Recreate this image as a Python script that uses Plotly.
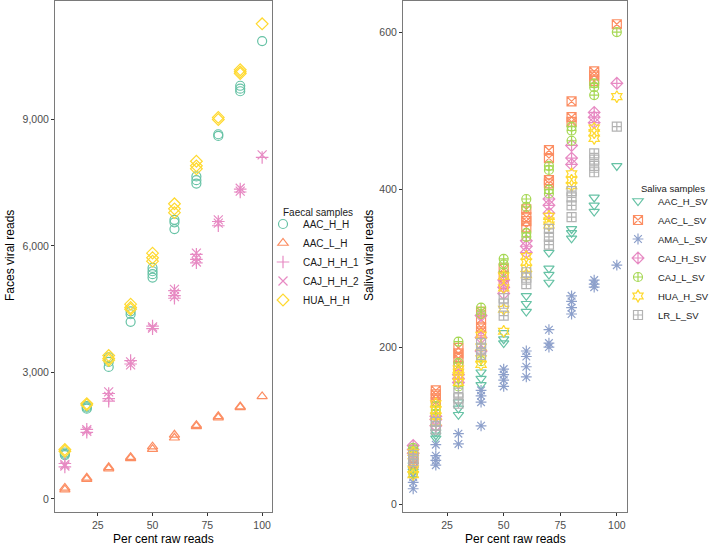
import plotly.graph_objects as go

W, H = 709, 548

PERCENT = [10, 20, 30, 40, 50, 60, 70, 80, 90, 100]

# ---------- Faecal samples (left panel) ----------
AAC_H_H = [[1100, 1070, 1040], [2200, 2170, 2140], [3360, 3250, 3130], [4450, 4380, 4200],
           [5480, 5400, 5330, 5250], [6620, 6560, 6400], [7650, 7560, 7480], [8650, 8610],
           [9800, 9730, 9670], [10860]]
AAC_L_H = [[260, 220], [500, 470], [750, 720], [990, 960], [1240, 1180], [1520, 1450],
           [1750, 1720], [1960, 1930], [2190, 2170], [2430]]
CAJ_H_H_1 = [[840, 760], [1650, 1580], [2500, 2380, 2320], [3280, 3200], [4100, 4040],
             [4940, 4820, 4760], [5800, 5680, 5600], [6580, 6480], [7350, 7280], [8100]]
CAJ_H_H_2 = [[820, 780], [1640, 1600], [2540, 2430], [3250, 3180], [4080, 4050],
             [4970, 4880, 4800], [5830, 5720, 5620], [6620, 6540], [7370, 7300], [8160]]
HUA_H_H = [[1170, 1130], [2260, 2230], [3400, 3330, 3290], [4620, 4540, 4500],
           [5830, 5720, 5640], [7000, 6880, 6790], [8010, 7900, 7830], [9050, 9000],
           [10180, 10130, 10090], [11270]]

# ---------- Saliva samples (right panel) ----------
AAC_H_SV = [[50, 45, 42], [92, 88, 84], [130, 122, 114], [168, 160, 152], [218, 210, 205],
            [265, 255, 245], [320, 300, 292, 282], [350, 345, 338], [390, 380, 372], [430]]
AAC_L_SV = [[60, 55, 52], [145, 140, 135, 130], [199, 192, 186, 176], [245, 235, 225, 220],
            [300, 290, 280], [375, 365, 360, 352], [450, 440, 412, 408], [512, 492, 486],
            [550, 545, 538], [610]]
AMA_L_SV = [[35, 28, 20], [76, 62, 56, 50], [90, 77], [145, 138, 130, 100],
            [172, 165, 158, 150], [195, 188, 175, 162], [222, 205, 200],
            [265, 258, 250, 242], [285, 280, 276], [304]]
CAJ_H_SV = [[75, 70, 65], [112, 108, 100], [165, 160, 155], [240, 212, 195], [285, 276, 268],
            [335, 328, 320], [388, 380, 370], [456, 440, 432], [498, 492, 485], [535]]
CAJ_L_SV = [[72, 68, 40], [125, 120, 115], [207, 180, 150], [250, 242, 182], [312, 305, 295],
            [388, 378, 345, 340], [430, 425, 400, 395], [480, 475, 462], [535, 530, 520], [600]]
HUA_H_SV = [[66, 62, 45, 38], [128, 120, 112, 105], [172, 168, 163, 155], [215, 200, 185, 178],
            [290, 275, 248, 220], [315, 308, 300, 292], [366, 360, 355], [420, 412, 405],
            [478, 472, 465], [518]]
LR_L_SV = [[63, 58, 55], [105, 100, 95], [142, 135, 128], [205, 198, 190], [262, 255, 240],
           [295, 288, 280], [350, 340, 330], [398, 390, 380, 365], [446, 438, 430, 422], [480]]

FAECAL_NAMES = ["AAC_H_H", "AAC_L_H", "CAJ_H_H_1", "CAJ_H_H_2", "HUA_H_H"]
FAECAL_DATA = [AAC_H_H, AAC_L_H, CAJ_H_H_1, CAJ_H_H_2, HUA_H_H]
FAECAL_COLORS = ["#66C2A5", "#FC8D62", "#E78AC3", "#E78AC3", "#FFD92F"]
FAECAL_SYMBOLS = ["circle-open", "triangle-up-open", "cross-thin-open", "x-thin-open", "diamond-open"]

SALIVA_NAMES = ["AAC_H_SV", "AAC_L_SV", "AMA_L_SV", "CAJ_H_SV", "CAJ_L_SV", "HUA_H_SV", "LR_L_SV"]
SALIVA_DATA = [AAC_H_SV, AAC_L_SV, AMA_L_SV, CAJ_H_SV, CAJ_L_SV, HUA_H_SV, LR_L_SV]
SALIVA_COLORS = ["#66C2A5", "#FC8D62", "#8DA0CB", "#E78AC3", "#A6D854", "#FFD92F", "#B3B3B3"]
SALIVA_SYMBOLS = ["triangle-down-open", "square-x-open", "asterisk-open", "diamond-cross-open",
                  "circle-cross-open", "hexagram-open", "square-cross-open"]

FONT = "Liberation Sans, Arial, sans-serif"


def flatten(series):
    xs, ys = [], []
    for p, vals in zip(PERCENT, series):
        for v in vals:
            xs.append(p)
            ys.append(v)
    return xs, ys


fig = go.Figure()

for name, data, col, sym in zip(FAECAL_NAMES, FAECAL_DATA, FAECAL_COLORS, FAECAL_SYMBOLS):
    xs, ys = flatten(data)
    fig.add_trace(go.Scatter(
        x=xs, y=ys, mode="markers", name=name, xaxis="x", yaxis="y", legend="legend",
        marker=dict(symbol=sym, size=9, color=col, line=dict(color=col, width=1.2)),
    ))

for name, data, col, sym in zip(SALIVA_NAMES, SALIVA_DATA, SALIVA_COLORS, SALIVA_SYMBOLS):
    xs, ys = flatten(data)
    fig.add_trace(go.Scatter(
        x=xs, y=ys, mode="markers", name=name, xaxis="x2", yaxis="y2", legend="legend2",
        marker=dict(symbol=sym, size=9, color=col, line=dict(color=col, width=1.2)),
    ))


def px_x(v):
    return v / W


def px_y(v):
    return 1 - v / H


FRAME = "#7A7A7A"
axis_common = dict(
    showgrid=False, zeroline=False, showline=True, mirror=True, linecolor=FRAME, linewidth=1,
    ticks="outside", ticklen=3, tickcolor="#333333", tickwidth=1, automargin=False,
    tickfont=dict(family=FONT, size=10.5, color="#4D4D4D"),
)

LEG_FONT = dict(family=FONT, size=10, color="#1a1a1a")
LEG_FONT2 = dict(family=FONT, size=9.5, color="#1a1a1a")


def note(text, x, y, size=12, angle=0, xanchor="center", font=None):
    return dict(text=text, x=px_x(x), y=px_y(y), xref="paper", yref="paper",
                xanchor=xanchor, yanchor="middle", showarrow=False, textangle=angle,
                font=font or dict(family=FONT, size=size, color="black"))


fig.update_layout(
    width=W, height=H,
    margin=dict(l=0, r=0, t=0, b=0, autoexpand=False),
    paper_bgcolor="white", plot_bgcolor="white",
    font=dict(family=FONT),
    xaxis=dict(domain=[px_x(55), px_x(272)], range=[5.5, 104.5], tickvals=[25, 50, 75, 100],
               anchor="y", **axis_common),
    yaxis=dict(domain=[px_y(512), px_y(1)], range=[-311, 11811], tickvals=[0, 3000, 6000, 9000],
               tickformat=",", anchor="x", **axis_common),
    xaxis2=dict(domain=[px_x(403), px_x(627)], range=[5.5, 104.5], tickvals=[25, 50, 75, 100],
                anchor="y2", **axis_common),
    yaxis2=dict(domain=[px_y(512), px_y(1)], range=[-9.5, 639.5], tickvals=[0, 200, 400, 600],
                anchor="x2", **axis_common),
    legend=dict(x=px_x(263), y=px_y(262), xanchor="left", yanchor="middle",
                bgcolor="rgba(0,0,0,0)", font=LEG_FONT, itemwidth=30, tracegroupgap=0),
    legend2=dict(x=px_x(618), y=px_y(258), xanchor="left", yanchor="middle",
                 bgcolor="rgba(0,0,0,0)", font=LEG_FONT2, itemwidth=30, tracegroupgap=0),
    annotations=[
        note("Per cent raw reads", 163, 539),
        note("Per cent raw reads", 515, 539),
        note("Faces viral reads", 10, 256, angle=-90),
        note("Saliva viral reads", 369, 256, angle=-90),
        note("Faecal samples", 281, 212, xanchor="left", font=LEG_FONT),
        note("Saliva samples", 639, 188, xanchor="left", font=LEG_FONT2),
    ],
)

fig.write_html("out.html", config={"displayModeBar": False},
               post_script="document.body.style.margin='0';document.body.style.overflow='hidden';")
